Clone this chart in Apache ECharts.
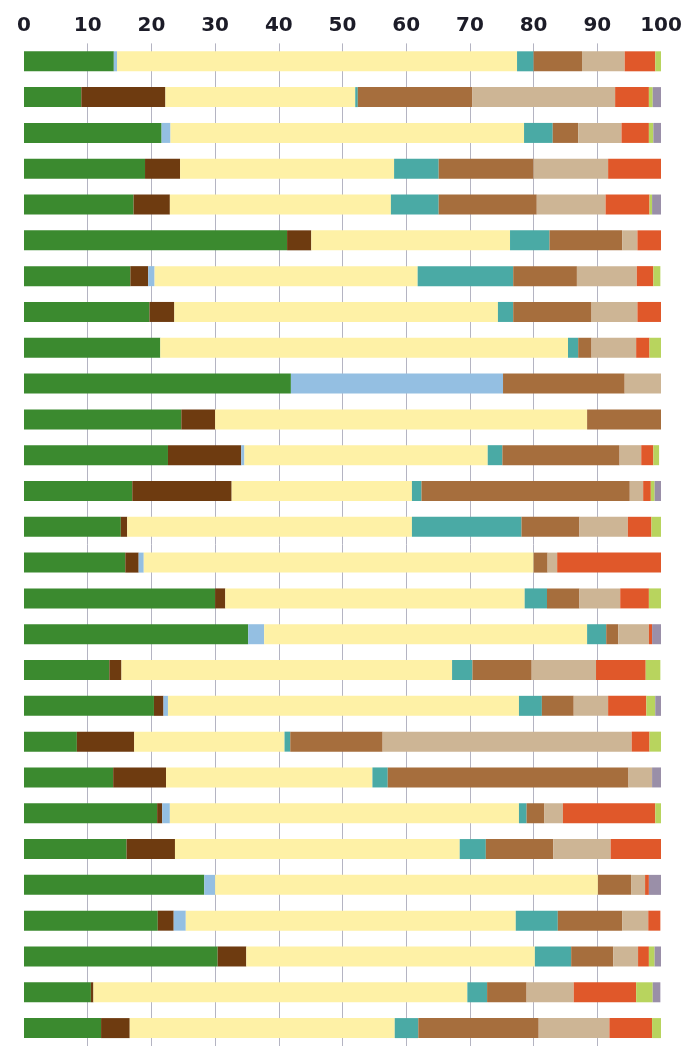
<!DOCTYPE html>
<html>
<head>
<meta charset="utf-8">
<script src="https://cdn.jsdelivr.net/npm/echarts@6/dist/echarts.min.js"></script>
<style>
  html, body { margin: 0; padding: 0; background: #fff; }
  #chart { width: 687px; height: 1046px; }
</style>
</head>
<body>
<div id="chart"></div>
<script>
  // rows top to bottom
  var rows = ['1','2','3','4','5','6','7','8','9','10','11','12','13','14',
              '15','16','17','18','19','20','21','22','23','24','25','26','27','28'];
  var ticks = [0, 10, 20, 30, 40, 50, 60, 70, 80, 90, 100];

  // segment values (percent), one array per colour
  var green     = [14.1, 9.0, 21.6, 19.0, 17.2, 41.3, 16.7, 19.7, 21.4, 41.9, 24.7, 22.6, 17.0, 15.2, 15.9, 30.0, 35.2, 13.4, 20.4, 8.3, 14.0, 20.9, 16.1, 28.3, 21.0, 30.4, 10.5, 12.1];
  var darkBrown = [0, 13.2, 0, 5.5, 5.7, 3.8, 2.8, 3.9, 0, 0, 5.3, 11.5, 15.6, 1.0, 2.1, 1.6, 0, 1.9, 1.5, 9.0, 8.3, 0.8, 7.6, 0, 2.5, 4.5, 0.4, 4.5];
  var lightBlue = [0.5, 0, 1.4, 0, 0, 0, 1.0, 0, 0, 33.3, 0, 0.5, 0, 0, 0.8, 0, 2.5, 0, 0.7, 0, 0, 1.2, 0, 1.7, 1.9, 0, 0, 0];
  var yellow    = [62.8, 29.8, 55.5, 33.6, 34.7, 31.2, 41.3, 50.8, 64.0, 0, 58.4, 38.2, 28.3, 44.7, 61.2, 47.0, 50.7, 51.9, 55.1, 23.6, 32.4, 54.8, 44.7, 60.1, 51.8, 45.3, 58.7, 41.6];
  var teal      = [2.6, 0.4, 4.5, 7.0, 7.5, 6.2, 15.0, 2.4, 1.6, 0, 0, 2.3, 1.5, 17.2, 0, 3.5, 3.0, 3.2, 3.6, 0.9, 2.4, 1.2, 4.1, 0, 6.6, 5.7, 3.1, 3.7];
  var brown     = [7.6, 18.0, 4.0, 14.9, 15.4, 11.4, 10.0, 12.3, 2.1, 19.1, 11.6, 18.4, 32.7, 9.1, 2.2, 5.1, 1.9, 9.3, 5.0, 14.5, 37.8, 2.8, 10.6, 5.2, 10.1, 6.6, 6.2, 18.9];
  var beige     = [6.7, 22.4, 6.8, 11.7, 10.8, 2.4, 9.4, 7.2, 7.0, 5.7, 0, 3.4, 2.1, 7.6, 1.5, 6.4, 4.8, 10.1, 5.4, 39.1, 3.7, 2.9, 9.0, 2.2, 4.1, 3.9, 7.4, 11.1];
  var orange    = [4.8, 5.3, 4.3, 8.3, 6.9, 3.7, 2.6, 3.7, 2.1, 0, 0, 1.9, 1.2, 3.7, 16.3, 4.5, 0.5, 7.8, 6.0, 2.8, 0, 14.5, 7.9, 0.6, 1.9, 1.7, 9.8, 6.7];
  var lightGreen= [0.9, 0.6, 0.7, 0, 0.4, 0, 1.1, 0, 1.9, 0, 0, 0.9, 0.6, 1.6, 0, 1.9, 0, 2.3, 1.4, 1.9, 0, 0.9, 0, 0, 0, 0.9, 2.6, 1.6];
  var purple    = [0, 1.3, 1.2, 0, 1.4, 0, 0, 0, 0, 0, 0, 0, 1.0, 0, 0, 0, 1.4, 0, 0.9, 0, 1.4, 0, 0, 1.9, 0, 1.0, 1.2, 0];

  var groups = [
    { name: 'green',      data: green,      color: '#3b8a2f' },
    { name: 'darkBrown',  data: darkBrown,  color: '#6e3b10' },
    { name: 'lightBlue',  data: lightBlue,  color: '#94bfe2' },
    { name: 'yellow',     data: yellow,     color: '#fef1a6' },
    { name: 'teal',       data: teal,       color: '#4aaaa5' },
    { name: 'brown',      data: brown,      color: '#a66e3d' },
    { name: 'beige',      data: beige,      color: '#cdb595' },
    { name: 'orange',     data: orange,     color: '#e0582a' },
    { name: 'lightGreen', data: lightGreen, color: '#b8d45e' },
    { name: 'purple',     data: purple,     color: '#9a8fa8' }
  ];

  var myChart = echarts.init(document.getElementById('chart'));

  var series = groups.map(function (g) {
    return {
      name: g.name,
      type: 'bar',
      stack: 'all',
      barWidth: 20,
      itemStyle: { color: g.color },
      emphasis: { disabled: true },
      data: g.data
    };
  });

  myChart.setOption({
    animation: false,
    grid: {
      left: 24,
      right: 26,
      top: 43.4,
      height: 1010.3
    },
    xAxis: {
      type: 'value',
      position: 'top',
      min: ticks[0],
      max: ticks[ticks.length - 1],
      interval: 10,
      axisLine: { show: false },
      axisTick: { show: false },
      axisLabel: {
        margin: 8,
        fontSize: 20,
        fontWeight: 'bold',
        fontFamily: 'DejaVu Sans',
        color: '#1c1c28'
      },
      splitLine: {
        show: true,
        showMinLine: false,
        showMaxLine: false,
        lineStyle: { color: '#b4b4c2', width: 1 }
      }
    },
    yAxis: {
      type: 'category',
      inverse: true,
      data: rows,
      axisLine: { show: false },
      axisTick: { show: false },
      axisLabel: { show: false },
      splitLine: { show: false }
    },
    series: series
  });
</script>
</body>
</html>
